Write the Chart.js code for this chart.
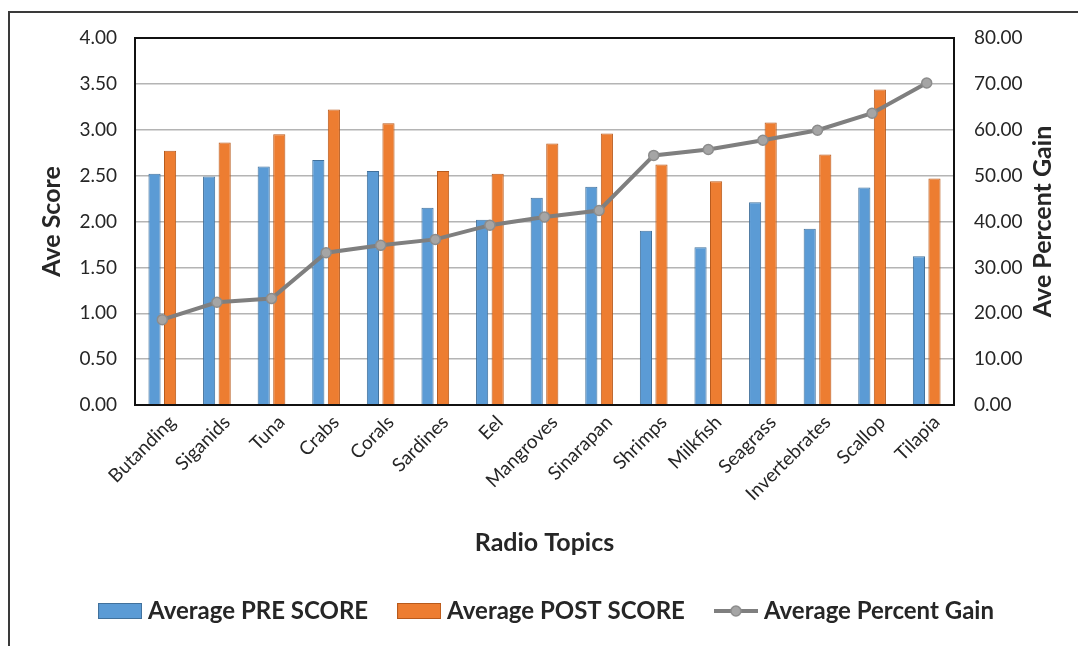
<!DOCTYPE html>
<html>
<head>
<meta charset="utf-8">
<title>Radio Topics – Average Scores and Percent Gain</title>
<script src="https://cdn.jsdelivr.net/npm/chart.js@4/dist/chart.umd.min.js"></script>
<style>
  html, body { margin: 0; padding: 0; background: #ffffff; }
  #wrap { position: relative; width: 1078px; height: 646px; }
</style>
</head>
<body>
<div id="wrap"><canvas id="chart" width="1078" height="646"></canvas></div>
<script>
// Radio topics, in display order
const topics = ['Butanding', 'Siganids', 'Tuna', 'Crabs', 'Corals', 'Sardines', 'Eel',
  'Mangroves', 'Sinarapan', 'Shrimps', 'Milkfish', 'Seagrass', 'Invertebrates', 'Scallop', 'Tilapia'];

// Average scores (left axis)
const preScore  = [2.52, 2.49, 2.60, 2.67, 2.55, 2.15, 2.02, 2.26, 2.38, 1.90, 1.72, 2.21, 1.92, 2.37, 1.62];
const postScore = [2.77, 2.86, 2.95, 3.22, 3.07, 2.55, 2.52, 2.85, 2.96, 2.62, 2.44, 3.08, 2.73, 3.44, 2.47];

// Average percent gain (right axis)
const percentGain = [18.6, 22.4, 23.2, 33.2, 34.8, 36.1, 39.2, 41.0, 42.4, 54.4, 55.7, 57.7, 59.9, 63.6, 70.2];

const FONT = 'Lato, "Open Sans", "DejaVu Sans", sans-serif';
const TEXT = '#262626';

const PRE_FILL = '#5b9bd5', PRE_EDGE = '#41719c';
const POST_FILL = '#ed7d31', POST_EDGE = '#b85a1c';
const GAIN_LINE = '#7f7f7f', GAIN_POINT = '#a5a5a5', GAIN_EDGE = '#8c8c8c';

// Legend swatches, 44 x 16
function boxSwatch(fill, edge) {
  const c = document.createElement('canvas');
  c.width = 44; c.height = 16;
  const g = c.getContext('2d');
  g.fillStyle = fill;
  g.fillRect(0, 0, 44, 16);
  g.strokeStyle = edge;
  g.lineWidth = 1;
  g.strokeRect(0.5, 0.5, 43, 15);
  return c;
}
function lineSwatch() {
  const c = document.createElement('canvas');
  c.width = 44; c.height = 16;
  const g = c.getContext('2d');
  g.strokeStyle = GAIN_LINE;
  g.lineWidth = 4;
  g.beginPath(); g.moveTo(0, 8); g.lineTo(44, 8); g.stroke();
  g.beginPath(); g.arc(22, 8, 5, 0, Math.PI * 2);
  g.fillStyle = GAIN_POINT; g.fill();
  g.lineWidth = 1.5; g.strokeStyle = GAIN_EDGE; g.stroke();
  return c;
}
const swatches = [boxSwatch(PRE_FILL, PRE_EDGE), boxSwatch(POST_FILL, POST_EDGE), lineSwatch()];

// Outer frame, the black box around the plot area and the right axis title
const framePlugin = {
  id: 'frame',
  beforeDraw(chart) {
    const ctx = chart.ctx;
    ctx.save();
    ctx.fillStyle = '#ffffff';
    ctx.fillRect(0, 0, chart.width, chart.height);
    ctx.strokeStyle = '#3a3a3a';
    ctx.lineWidth = 2;
    ctx.strokeRect(9, 12, chart.width + 40, chart.height + 40);
    ctx.restore();
  },
  afterDraw(chart) {
    const {ctx, chartArea: a} = chart;
    ctx.save();
    ctx.strokeStyle = '#111111';
    ctx.lineWidth = 2;
    ctx.strokeRect(a.left, a.top, a.right - a.left, a.bottom - a.top);
    // right axis title, reading bottom to top
    const s = chart.scales.yGain;
    ctx.translate(s.right - 27, (a.top + a.bottom) / 2);
    ctx.rotate(-Math.PI / 2);
    ctx.font = 'bold 25px ' + FONT;
    ctx.fillStyle = TEXT;
    ctx.textAlign = 'center';
    ctx.textBaseline = 'middle';
    ctx.fillText('Ave Percent Gain', 0, 0);
    ctx.restore();
  }
};

new Chart(document.getElementById('chart'), {
  type: 'bar',
  data: {
    labels: topics,
    datasets: [
      {
        label: 'Average PRE SCORE',
        data: preScore,
        yAxisID: 'yScore',
        backgroundColor: PRE_FILL,
        borderColor: PRE_EDGE,
        borderWidth: 1,
        order: 1,
        categoryPercentage: 0.57,
        barPercentage: 0.78
      },
      {
        label: 'Average POST SCORE',
        data: postScore,
        yAxisID: 'yScore',
        backgroundColor: POST_FILL,
        borderColor: POST_EDGE,
        borderWidth: 1,
        order: 1,
        categoryPercentage: 0.57,
        barPercentage: 0.78
      },
      {
        type: 'line',
        label: 'Average Percent Gain',
        data: percentGain,
        yAxisID: 'yGain',
        borderColor: GAIN_LINE,
        borderWidth: 4,
        backgroundColor: GAIN_POINT,
        pointRadius: 5,
        pointBorderColor: GAIN_EDGE,
        pointBorderWidth: 1.5,
        pointBackgroundColor: GAIN_POINT,
        tension: 0,
        fill: false,
        order: 0
      }
    ]
  },
  options: {
    responsive: false,
    animation: false,
    devicePixelRatio: 1,
    layout: { padding: { left: 28, right: 8, top: 38, bottom: 13 } },
    plugins: {
      tooltip: { enabled: false },
      legend: {
        position: 'bottom',
        labels: {
          usePointStyle: true,
          pointStyleWidth: 32,
          boxHeight: 16,
          padding: 35,
          color: TEXT,
          font: { family: FONT, size: 24, weight: 'bold' },
          sort: (a, b) => a.datasetIndex - b.datasetIndex,
          generateLabels(chart) {
            const items = Chart.defaults.plugins.legend.labels.generateLabels(chart);
            items.forEach(it => { it.pointStyle = swatches[it.datasetIndex]; });
            return items;
          }
        }
      }
    },
    scales: {
      x: {
        grid: { display: false, drawTicks: false },
        border: { display: false },
        ticks: {
          autoSkip: false,
          minRotation: 45,
          maxRotation: 45,
          padding: 6,
          labelOffset: 10,
          color: TEXT,
          font: { family: FONT, size: 19 }
        },
        title: {
          display: true,
          text: 'Radio Topics',
          color: TEXT,
          font: { family: FONT, size: 25, weight: 'bold' },
          padding: { top: 0, bottom: 6 }
        },
        afterFit(scale) { scale.height = 159; }
      },
      yScore: {
        position: 'left',
        min: 0,
        max: 4,
        grid: { color: '#b4b4b4', lineWidth: 1.5, drawTicks: false },
        border: { display: false },
        ticks: {
          stepSize: 0.5,
          padding: 18,
          color: TEXT,
          font: { family: FONT, size: 19 },
          callback: v => Number(v).toFixed(2)
        },
        title: {
          display: true,
          text: 'Ave Score',
          color: TEXT,
          font: { family: FONT, size: 25, weight: 'bold' },
          padding: { top: 9, bottom: 0 }
        },
        afterFit(scale) { scale.width = 107; }
      },
      yGain: {
        position: 'right',
        min: 0,
        max: 80,
        grid: { display: false, drawTicks: false },
        border: { display: false },
        ticks: {
          stepSize: 10,
          padding: 20,
          color: TEXT,
          font: { family: FONT, size: 19 },
          callback: v => Number(v).toFixed(2)
        },
        afterFit(scale) { scale.width = 116; }
      }
    }
  },
  plugins: [framePlugin]
});
</script>
</body>
</html>
